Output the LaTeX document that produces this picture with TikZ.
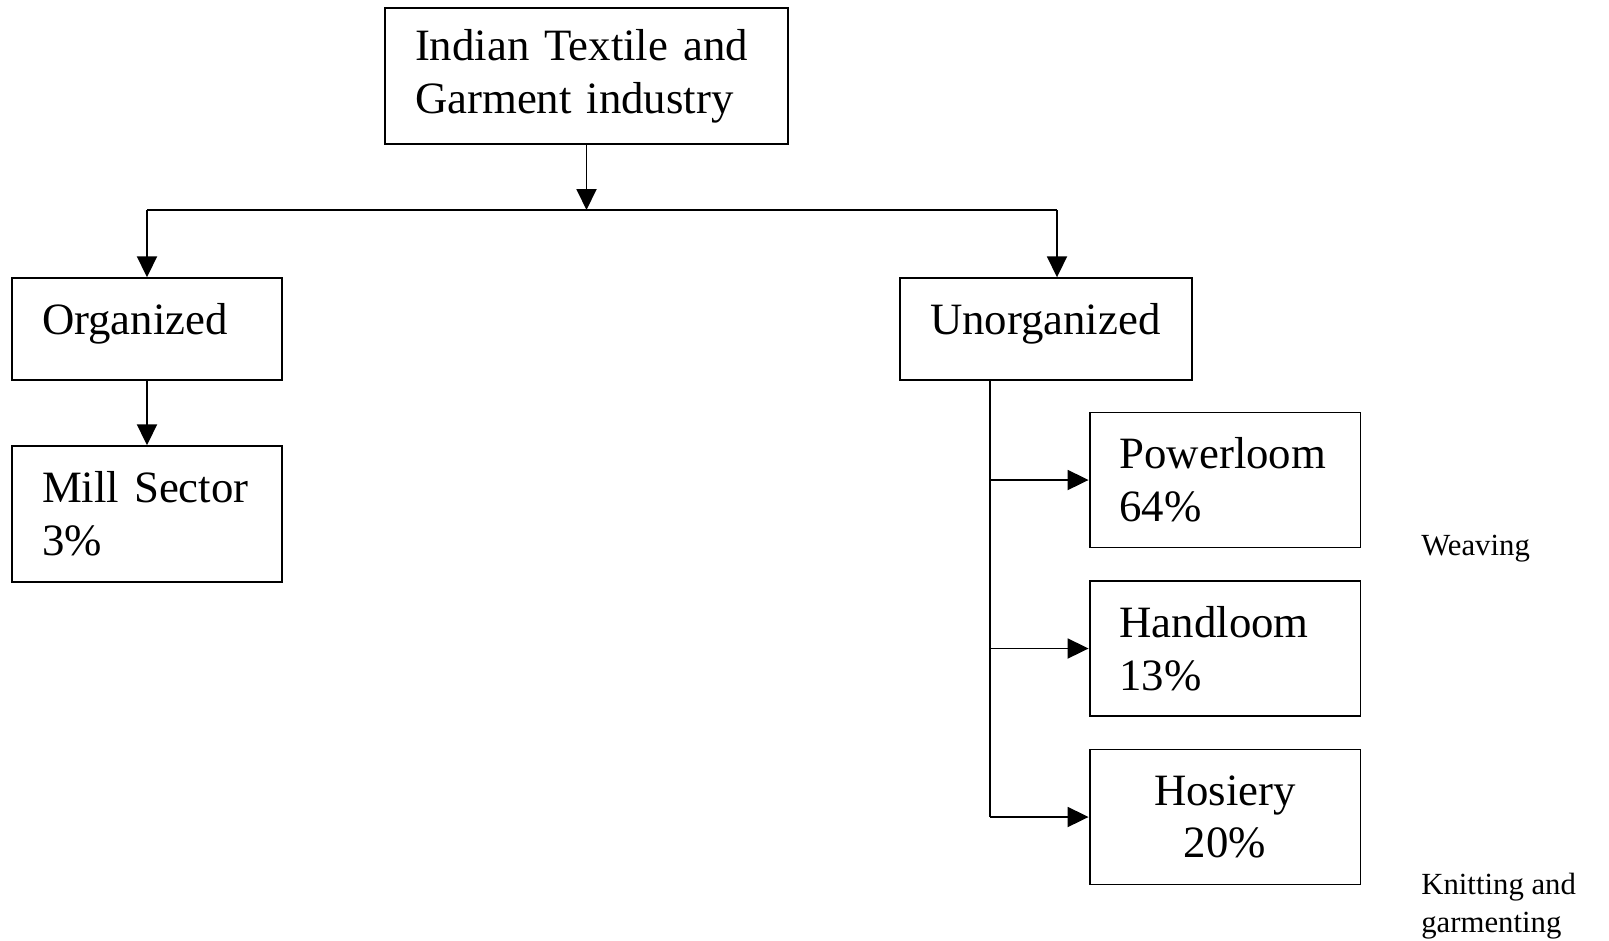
\documentclass[tikz,border=0pt]{standalone}
\usepackage{fontspec}
\setmainfont{Liberation Serif}
\usepackage{tikz}
\usetikzlibrary{positioning, arrows.meta, calc}

\begin{document}
\begin{tikzpicture}[x=0.02cm, y=-0.02cm,
      box/.style={rectangle, draw, line width=1.1pt, inner xsep=0.6cm,
                  inner ysep=0pt, align=left,
                  font=\fontsize{25.5}{30}\selectfont},
      arr/.style={-{Triangle[length=0.42cm, width=0.4cm]}, line width=1.1pt},
      lbl/.style={font=\fontsize{17.5}{22}\selectfont, align=left, anchor=west,
                  inner sep=0pt}
    ]
    \useasboundingbox (0,0) rectangle (1609,940);

    %--- top ---
    \node[box, text width=6.86cm, minimum height=2.71cm]
          (ind) at (586.5, 76) {Indian Textile and\\Garment industry};

    %--- organized (left) ---
    \node[box, text width=4.2cm, minimum height=2.03cm, text depth=0.4cm]
          (org) at (147, 329) {Organized};
    \node[box, text width=4.2cm, minimum height=2.71cm]
          (mill) at (147, 514) {Mill Sector\\3\%};
    \draw[arr] (org) -- (mill);

    %--- unorganized (right) ---
    \node[box, text width=4.64cm, minimum height=2.03cm, text depth=0.4cm]
          (unorg) at (1046, 329) {Unorganized};

    \node[box, text width=4.22cm, minimum height=2.7cm]
          (pow) at (1225, 480) {Powerloom\\64\%};
    \node[box, text width=4.22cm, minimum height=2.7cm]
          (hand) at (1225, 648.5) {Handloom\\13\%};
    \node[box, text width=4.22cm, minimum height=2.7cm, align=center]
          (hos) at (1225, 817) {Hosiery\\20\%};

    %--- connectors ---
    \coordinate (bus) at (586.5, 210);
    \coordinate (busL) at (org.north |- bus);
    \coordinate (busR) at (1057, 210);
    \draw[arr] (ind) -- (bus);
    \draw[line width=1.1pt] (busL) -- (busR);
    \draw[arr] (busL) -- (org);
    \draw[arr] (busR) -- (busR |- unorg.north);

    \coordinate (trunk) at (990, 817);
    \draw[line width=1.1pt] (unorg.south -| trunk) -- (trunk);
    \foreach \n in {pow, hand, hos} {
      \draw[arr] (trunk |- \n.west) -- (\n.west);
    }

    %--- side notes ---
    \node[lbl] (weav) at (1421, 549) {Weaving};
    \node[lbl] (knit) at (1421, 906) {Knitting and\\garmenting};
  \end{tikzpicture}
\end{document}
